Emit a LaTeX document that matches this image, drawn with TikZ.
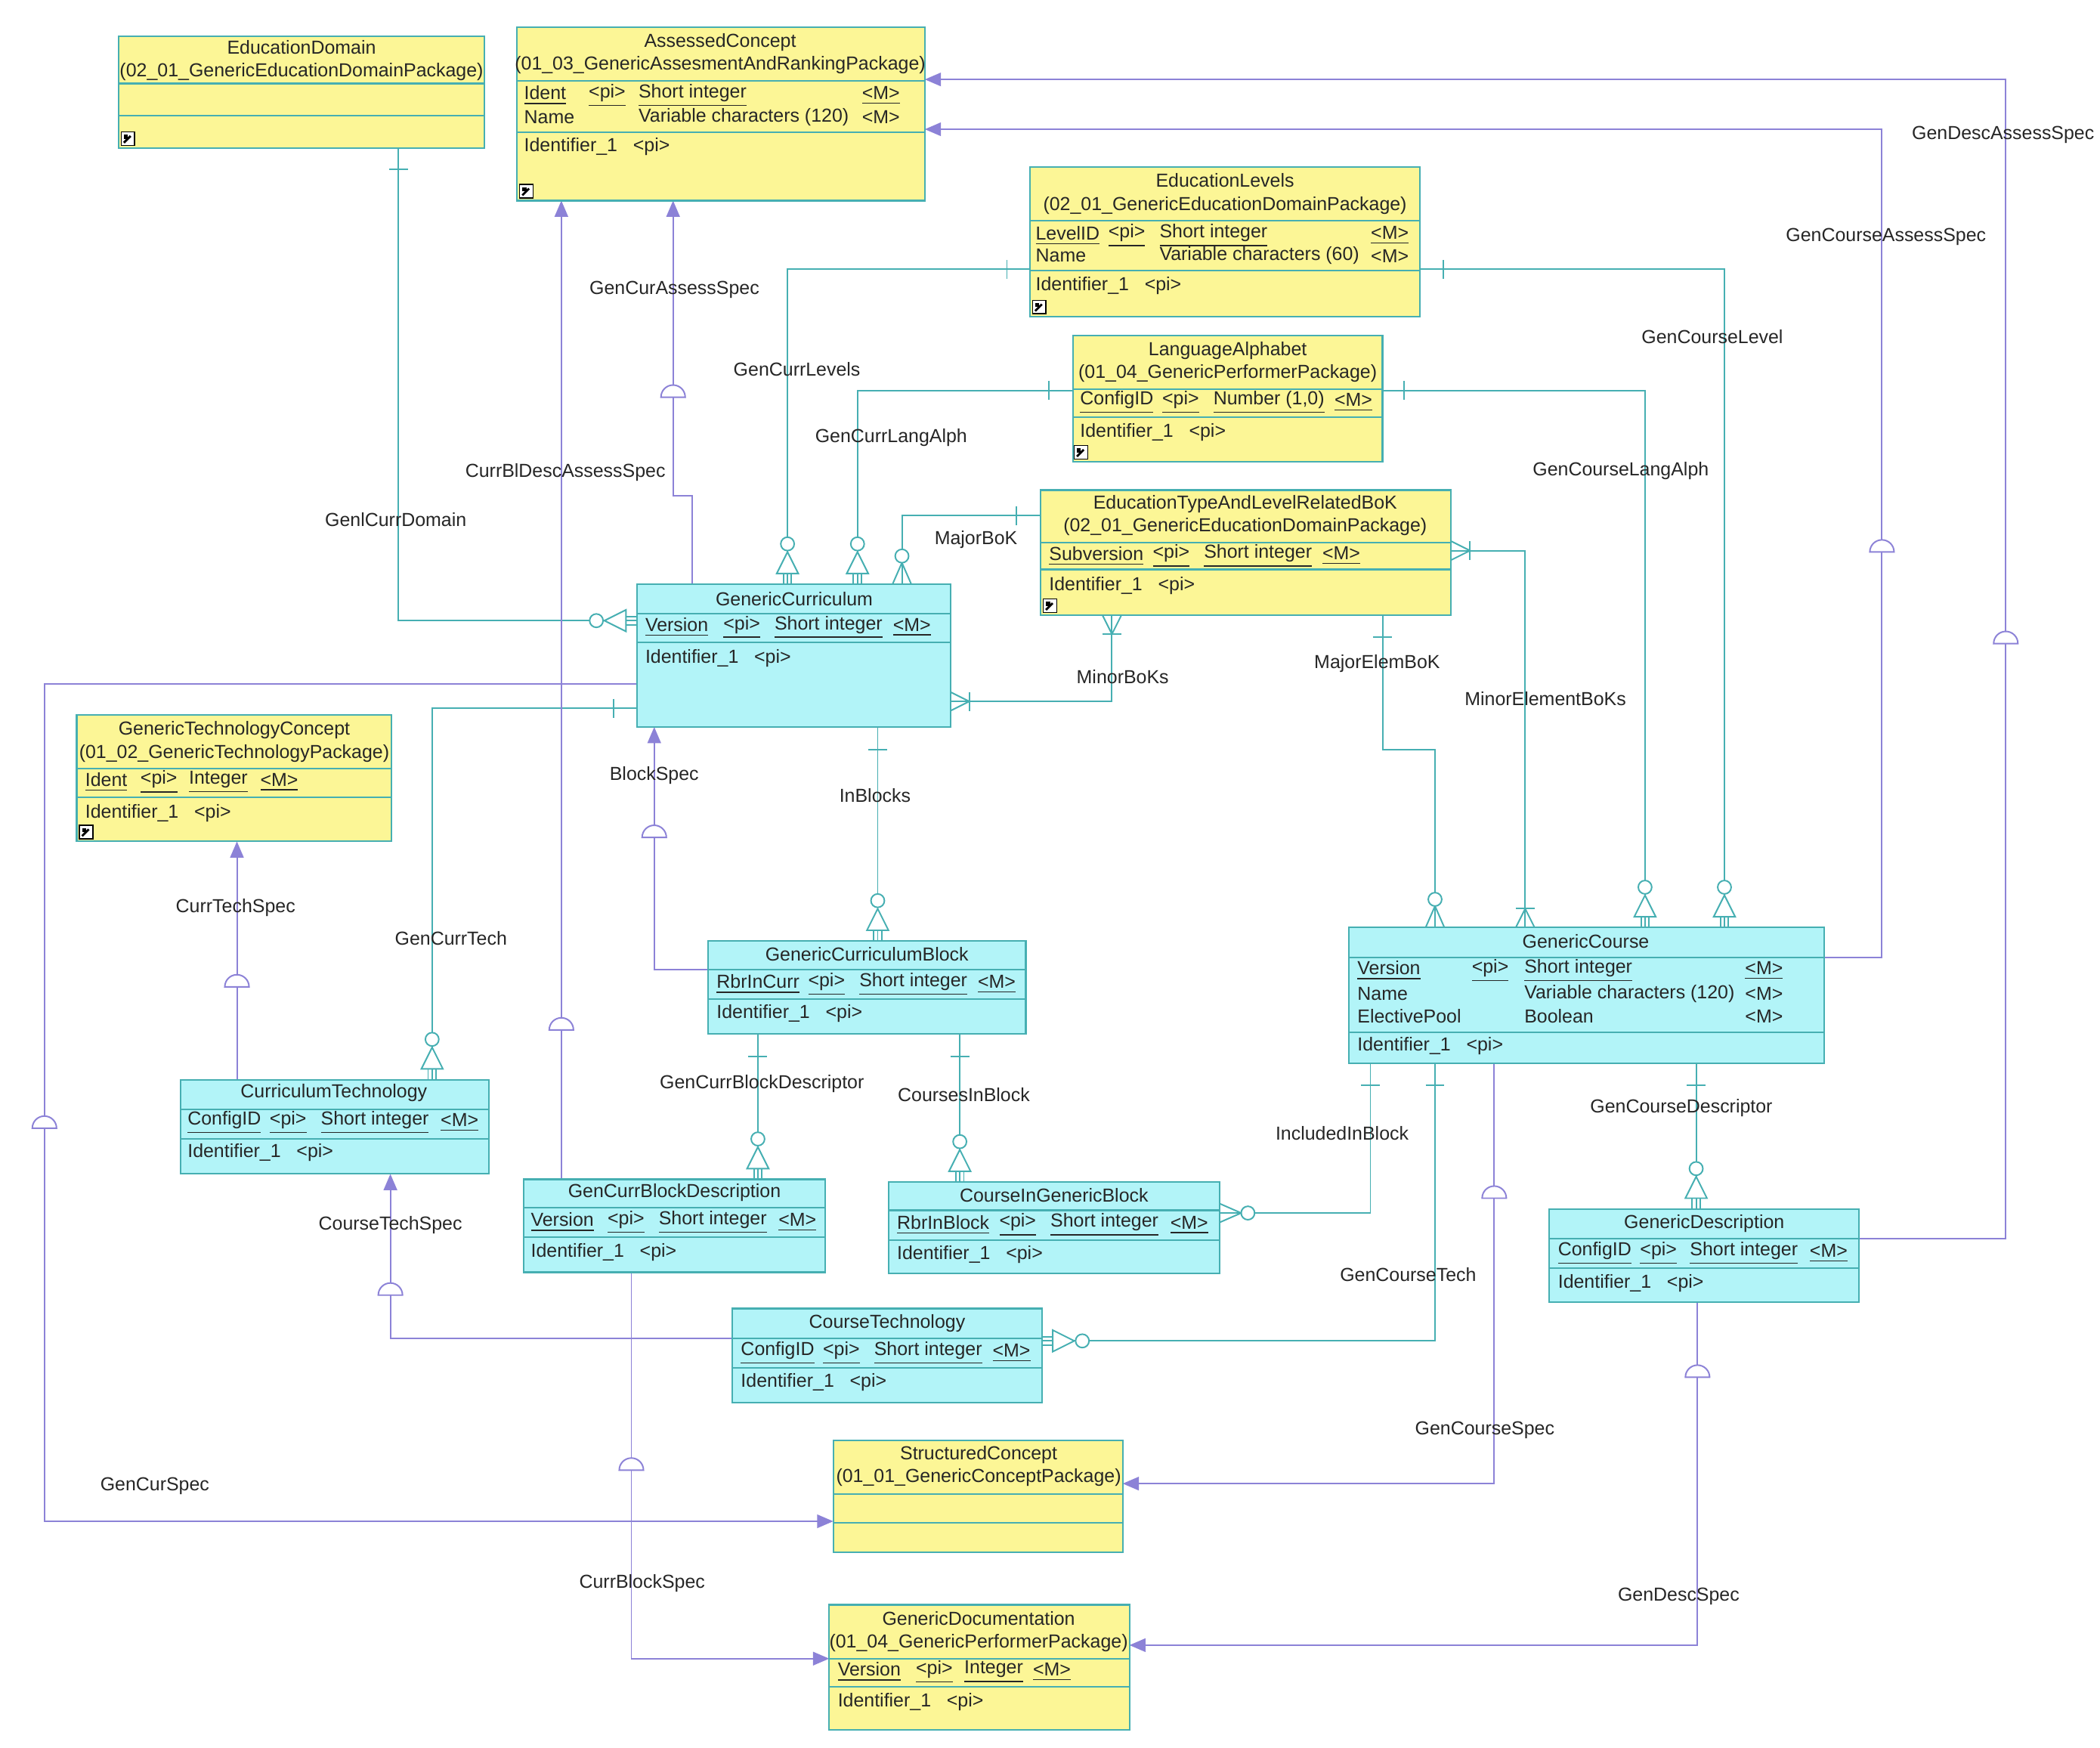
\documentclass[tikz,border=0pt]{standalone}
\usepackage{fontspec}
\setmainfont{Liberation Sans}
\usetikzlibrary{arrows.meta,fit}
\definecolor{ylw}{RGB}{252,246,150}
\definecolor{cyn}{RGB}{178,244,248}
\definecolor{tl}{RGB}{70,175,178}
\definecolor{pu}{RGB}{140,130,215}
\tikzset{
 txt/.style={font=\fontsize{7}{8.5}\selectfont,inner sep=0,text=black!85},
 ent/.style={draw=tl,line width=0.6pt},
 rel/.style={draw=tl,line width=0.55pt},
 inh/.style={draw=pu,line width=0.55pt},
 inha/.style={inh,-{Triangle[width=5pt,length=6pt,fill=pu]}},
 one/.pic={\draw[rel] (0,-7)--(0,7);},
 ztri/.pic={\draw[rel] (0,-3)--(8,-3) (0,0)--(8,0) (0,3)--(8,3);
   \draw[rel,fill=white] (8,-8)--(8,8)--(24,0)--cycle;
   \draw[rel,fill=white] (30,0) circle (5);},
 zcrow/.pic={\draw[rel] (0,-7)--(16,0)--(0,7); \draw[rel] (0,0)--(16,0);
   \draw[rel,fill=white] (21,0) circle (5);},
 crow/.pic={\draw[rel] (0,-7)--(14,0)--(0,7); \draw[rel] (14,-7)--(14,7);},
 half/.pic={\draw[inh,fill=white] (0,-9) arc(-90:90:9)--cycle;}
}
\newcommand\ebx[6]{\draw[ent,fill=#6] (#2,#3) rectangle (#4,#5);
 \node[fit={(#2,#3)(#4,#5)},inner sep=0] (#1) {};}
\newcommand\hl[3]{\draw[ent] (#1,#3)--(#2,#3);}
\newcommand\tx[3]{\node[txt,anchor=west] at (#1,#2) {#3};}
\newcommand\ct[3]{\node[txt,align=center] at (#1,#2) {#3};}
\newcommand\ico[2]{\draw[black,fill=white,line width=0.4pt] (#1-5,#2-5) rectangle (#1+5,#2+5);
 \draw[black,line width=0.8pt] (#1-3,#2+3)--(#1+2,#2-2); \fill[black] (#1-3,#2-3) rectangle (#1,#2);}
\newcommand\ul[1]{\underline{#1}}
\begin{document}
\begin{tikzpicture}[x=0.5pt,y=-0.5pt]
\useasboundingbox (0,0) rectangle (1560,1298);
\fill[white] (0,0) rectangle (1560,1298);
% ---------- relationship lines ----------
\draw[rel] (296,110) |- (473,461);
\draw[rel] (765,200) -| (585,434);
\draw[rel] (797,290) -| (637,434);
\draw[rel] (773,383) -| (670,434);
\draw[rel] (826,457) |- (706,521);
\draw[rel] (1055,200) -| (1281,689);
\draw[rel] (1027,290) -| (1222,689);
\draw[rel] (1027,457) -- (1027,557) -| (1066,689);
\draw[rel] (1078,409) -| (1133,689);
\draw[rel] (652,540) -- (652,699);
\draw[rel] (473,526) -| (321,802);
\draw[rel] (563,768) -- (563,876);
\draw[rel] (713,768) -- (713,878);
\draw[rel] (1018,790) |- (906,901);
\draw[rel] (1066,790) |- (774,996);
\draw[rel] (1260,790) -- (1260,898);
% ---------- inheritance lines ----------
\draw[inha] (514,434) -- (514,368) -- (500,368) -- (500,149);
\draw[inha] (417,876) -- (417,149);
\draw[inha] (1355,711) -| (1398,96) -- (687,96);
\draw[inha] (1381,920) -| (1490,59) -- (687,59);
\draw[inha] (526,720) -| (486,540);
\draw[inha] (176,802) -- (176,625);
\draw[inha] (544,994) -| (290,872);
\draw[inha] (473,508) -| (33,1130) -- (619,1130);
\draw[inha] (1110,790) |- (834,1102);
\draw[inha] (469,945) |- (616,1232);
\draw[inha] (1261,967) |- (839,1222);
% ---------- entities ----------
\ebx{ed}{88}{27}{360}{110}{ylw}\hl{88}{360}{62}\hl{88}{360}{86}
\ct{224}{45}{EducationDomain\\(02\_01\_GenericEducationDomainPackage)}\ico{95}{103}

\ebx{ac}{384}{20}{687}{149}{ylw}\hl{384}{687}{60}\hl{384}{687}{98}
\ct{535}{40}{AssessedConcept\\(01\_03\_GenericAssesmentAndRankingPackage)}
\tx{389}{71}{\ul{Ident}}\tx{437}{71}{\ul{<pi>}}\tx{474}{71}{\ul{Short integer}}\tx{640}{71}{\ul{<M>}}
\tx{389}{87}{Name}\tx{474}{87}{Variable characters (120)}\tx{640}{87}{<M>}
\tx{389}{109}{Identifier\_1\ \ \ <pi>}\ico{391}{142}

\ebx{el}{765}{124}{1055}{235}{ylw}\hl{765}{1055}{164}\hl{765}{1055}{201}
\ct{910}{144}{EducationLevels\\(02\_01\_GenericEducationDomainPackage)}
\tx{769}{175}{\ul{LevelID}}\tx{823}{175}{\ul{<pi>}}\tx{861}{175}{\ul{Short integer}}\tx{1018}{175}{\ul{<M>}}
\tx{769}{190}{Name}\tx{861}{190}{Variable characters (60)}\tx{1018}{190}{<M>}
\tx{769}{212}{Identifier\_1\ \ \ <pi>}\ico{772}{228}

\ebx{la}{797}{249}{1027}{343}{ylw}\hl{797}{1027}{289}\hl{797}{1027}{310}
\ct{912}{269}{LanguageAlphabet\\(01\_04\_GenericPerformerPackage)}
\tx{802}{299}{\ul{ConfigID}}\tx{863}{299}{\ul{<pi>}}\tx{901}{299}{\ul{Number (1,0)}}\tx{991}{299}{\ul{<M>}}
\tx{802}{321}{Identifier\_1\ \ \ <pi>}\ico{803}{336}

\ebx{et}{773}{364}{1078}{457}{ylw}\hl{773}{1078}{403}\hl{773}{1078}{423}
\ct{925}{383}{EducationTypeAndLevelRelatedBoK\\(02\_01\_GenericEducationDomainPackage)}
\tx{779}{413}{\ul{Subversion}}\tx{856}{413}{\ul{<pi>}}\tx{894}{413}{\ul{Short integer}}\tx{982}{413}{\ul{<M>}}
\tx{779}{435}{Identifier\_1\ \ \ <pi>}\ico{780}{450}

\ebx{gc}{473}{434}{706}{540}{cyn}\hl{473}{706}{456}\hl{473}{706}{477}
\ct{590}{445}{GenericCurriculum}
\tx{479}{466}{\ul{Version}}\tx{537}{466}{\ul{<pi>}}\tx{575}{466}{\ul{Short integer}}\tx{663}{466}{\ul{<M>}}
\tx{479}{489}{Identifier\_1\ \ \ <pi>}

\ebx{gtc}{57}{531}{291}{625}{ylw}\hl{57}{291}{571}\hl{57}{291}{592}
\ct{174}{551}{GenericTechnologyConcept\\(01\_02\_GenericTechnologyPackage)}
\tx{63}{581}{\ul{Ident}}\tx{104}{581}{\ul{<pi>}}\tx{140}{581}{\ul{Integer}}\tx{193}{581}{\ul{<M>}}
\tx{63}{604}{Identifier\_1\ \ \ <pi>}\ico{64}{618}

\ebx{gcb}{526}{699}{762}{768}{cyn}\hl{526}{762}{720}\hl{526}{762}{742}
\ct{644}{709}{GenericCurriculumBlock}
\tx{532}{731}{\ul{RbrInCurr}}\tx{600}{731}{\ul{<pi>}}\tx{638}{731}{\ul{Short integer}}\tx{726}{731}{\ul{<M>}}
\tx{532}{753}{Identifier\_1\ \ \ <pi>}

\ebx{gco}{1002}{689}{1355}{790}{cyn}\hl{1002}{1355}{711}\hl{1002}{1355}{767}
\ct{1178}{699}{GenericCourse}
\tx{1008}{721}{\ul{Version}}\tx{1093}{721}{\ul{<pi>}}\tx{1132}{721}{\ul{Short integer}}\tx{1296}{721}{\ul{<M>}}
\tx{1008}{738}{Name}\tx{1132}{738}{Variable characters (120)}\tx{1296}{738}{<M>}
\tx{1008}{755}{ElectivePool}\tx{1132}{755}{Boolean}\tx{1296}{755}{<M>}
\tx{1008}{777}{Identifier\_1\ \ \ <pi>}

\ebx{ct}{134}{802}{363}{872}{cyn}\hl{134}{363}{824}\hl{134}{363}{846}
\ct{248}{812}{CurriculumTechnology}
\tx{139}{834}{\ul{ConfigID}}\tx{200}{834}{\ul{<pi>}}\tx{238}{834}{\ul{Short integer}}\tx{327}{834}{\ul{<M>}}
\tx{139}{856}{Identifier\_1\ \ \ <pi>}

\ebx{gcbd}{389}{876}{613}{945}{cyn}\hl{389}{613}{897}\hl{389}{613}{919}
\ct{501}{886}{GenCurrBlockDescription}
\tx{394}{908}{\ul{Version}}\tx{451}{908}{\ul{<pi>}}\tx{489}{908}{\ul{Short integer}}\tx{578}{908}{\ul{<M>}}
\tx{394}{930}{Identifier\_1\ \ \ <pi>}

\ebx{cig}{660}{878}{906}{946}{cyn}\hl{660}{906}{899}\hl{660}{906}{921}
\ct{783}{888}{CourseInGenericBlock}
\tx{666}{910}{\ul{RbrInBlock}}\tx{742}{910}{\ul{<pi>}}\tx{780}{910}{\ul{Short integer}}\tx{869}{910}{\ul{<M>}}
\tx{666}{932}{Identifier\_1\ \ \ <pi>}

\ebx{gd}{1151}{898}{1381}{967}{cyn}\hl{1151}{1381}{920}\hl{1151}{1381}{942}
\ct{1266}{909}{GenericDescription}
\tx{1157}{931}{\ul{ConfigID}}\tx{1218}{931}{\ul{<pi>}}\tx{1255}{931}{\ul{Short integer}}\tx{1344}{931}{\ul{<M>}}
\tx{1157}{953}{Identifier\_1\ \ \ <pi>}

\ebx{ctech}{544}{972}{774}{1042}{cyn}\hl{544}{774}{994}\hl{544}{774}{1016}
\ct{659}{983}{CourseTechnology}
\tx{550}{1005}{\ul{ConfigID}}\tx{611}{1005}{\ul{<pi>}}\tx{649}{1005}{\ul{Short integer}}\tx{737}{1005}{\ul{<M>}}
\tx{550}{1027}{Identifier\_1\ \ \ <pi>}

\ebx{sc}{619}{1070}{834}{1153}{ylw}\hl{619}{834}{1110}\hl{619}{834}{1131}
\ct{727}{1089}{StructuredConcept\\(01\_01\_GenericConceptPackage)}

\ebx{gdoc}{616}{1192}{839}{1285}{ylw}\hl{616}{839}{1232}\hl{616}{839}{1253}
\ct{727}{1212}{GenericDocumentation\\(01\_04\_GenericPerformerPackage)}
\tx{622}{1242}{\ul{Version}}\tx{680}{1242}{\ul{<pi>}}\tx{716}{1242}{\ul{Integer}}\tx{767}{1242}{\ul{<M>}}
\tx{622}{1264}{Identifier\_1\ \ \ <pi>}
% ---------- end symbols ----------
\pic[rotate=90] at (296,126) {one}; \pic[rotate=180] at (473,461) {ztri};
\pic at (748,200) {one}; \pic[rotate=90] at (585,434) {ztri};
\pic at (779,290) {one}; \pic[rotate=90] at (637,434) {ztri};
\pic at (755,383) {one}; \pic[rotate=90] at (670,434) {zcrow};
\pic[rotate=270] at (826,457) {crow}; \pic at (706,521) {crow};
\pic at (1072,200) {one}; \pic[rotate=90] at (1281,689) {ztri};
\pic at (1043,290) {one}; \pic[rotate=90] at (1222,689) {ztri};
\pic[rotate=90] at (1027,473) {one}; \pic[rotate=90] at (1066,689) {zcrow};
\pic at (1078,409) {crow}; \pic[rotate=90] at (1133,689) {crow};
\pic[rotate=90] at (652,557) {one}; \pic[rotate=90] at (652,699) {ztri};
\pic at (456,526) {one}; \pic[rotate=90] at (321,802) {ztri};
\pic[rotate=90] at (563,785) {one}; \pic[rotate=90] at (563,876) {ztri};
\pic[rotate=90] at (713,785) {one}; \pic[rotate=90] at (713,878) {ztri};
\pic[rotate=90] at (1018,806) {one}; \pic at (906,901) {zcrow};
\pic[rotate=90] at (1066,806) {one}; \pic at (774,996) {ztri};
\pic[rotate=90] at (1260,806) {one}; \pic[rotate=90] at (1260,898) {ztri};
\foreach \p in {(500,295),(417,765),(1398,410),(1490,478),(486,622),(176,733),(290,962),(33,838),(1110,890),(469,1092),(1261,1023)}
  \pic[rotate=90] at \p {half};
% ---------- labels ----------
\ct{1488}{100}{GenDescAssessSpec}
\ct{1401}{176}{GenCourseAssessSpec}
\ct{1272}{250}{GenCourseLevel}
\ct{1204}{350}{GenCourseLangAlph}
\ct{501}{215}{GenCurAssessSpec}
\ct{592}{274}{GenCurrLevels}
\ct{662}{325}{GenCurrLangAlph}
\ct{420}{351}{CurrBlDescAssessSpec}
\ct{294}{386}{GenlCurrDomain}
\ct{725}{401}{MajorBoK}
\ct{834}{503}{MinorBoKs}
\ct{1023}{493}{MajorElemBoK}
\ct{1148}{519}{MinorElementBoKs}
\ct{486}{576}{BlockSpec}
\ct{650}{591}{InBlocks}
\ct{175}{674}{CurrTechSpec}
\ct{335}{697}{GenCurrTech}
\ct{566}{805}{GenCurrBlockDescriptor}
\ct{716}{813}{CoursesInBlock}
\ct{997}{842}{IncludedInBlock}
\ct{1249}{823}{GenCourseDescriptor}
\ct{290}{910}{CourseTechSpec}
\ct{1046}{947}{GenCourseTech}
\ct{1103}{1062}{GenCourseSpec}
\ct{115}{1104}{GenCurSpec}
\ct{477}{1176}{CurrBlockSpec}
\ct{1247}{1186}{GenDescSpec}
\end{tikzpicture}
\end{document}
